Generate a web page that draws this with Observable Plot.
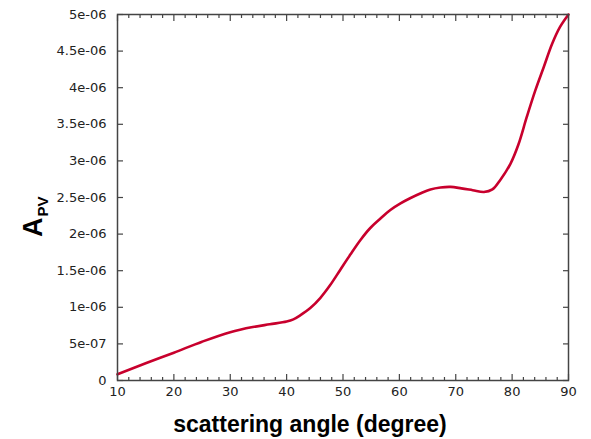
<!DOCTYPE html>
<html>
<head>
<meta charset="utf-8">
<script src="https://cdn.jsdelivr.net/npm/d3@7"></script>
<script src="https://cdn.jsdelivr.net/npm/@observablehq/plot@0.6"></script>
<style>
  html, body { margin: 0; padding: 0; background: #fff; }
  #chart { width: 591px; height: 439px; }
</style>
</head>
<body>
<div id="chart"></div>
<script>
// Data
const angle = [10, 15, 20, 25, 30, 34, 37, 40, 41.2, 42.4, 44.2, 46, 47.7, 49.5, 51.3, 53.1, 54.8, 56.6, 58.4, 60.2, 61.9, 63.7, 65.5, 67.3, 69.1, 71, 73, 75, 76.5, 77.9, 79.7, 81.1, 82.6, 84.1, 85.6, 87.1, 88.5, 90];
const apv = [0.086e-6, 0.236e-6, 0.38e-6, 0.53e-6, 0.66e-6, 0.73e-6, 0.768e-6, 0.805e-6, 0.835e-6, 0.89e-6, 0.99e-6, 1.13e-6, 1.30e-6, 1.51e-6, 1.72e-6, 1.92e-6, 2.08e-6, 2.21e-6, 2.33e-6, 2.42e-6, 2.49e-6, 2.555e-6, 2.61e-6, 2.637e-6, 2.645e-6, 2.625e-6, 2.60e-6, 2.575e-6, 2.61e-6, 2.74e-6, 2.96e-6, 3.22e-6, 3.60e-6, 3.96e-6, 4.28e-6, 4.60e-6, 4.83e-6, 5.0e-6];
const xMajor = [10, 20, 30, 40, 50, 60, 70, 80, 90];
const xMinor = [12, 14, 16, 18, 22, 24, 26, 28, 32, 34, 36, 38, 42, 44, 46, 48, 52, 54, 56, 58, 62, 64, 66, 68, 72, 74, 76, 78, 82, 84, 86, 88];
const xTickLabels = ["10", "20", "30", "40", "50", "60", "70", "80", "90"];
const yMajor = [0, 5e-7, 1e-6, 1.5e-6, 2e-6, 2.5e-6, 3e-6, 3.5e-6, 4e-6, 4.5e-6, 5e-6];
const yTickLabels = ["0", "5e-07", "1e-06", "1.5e-06", "2e-06", "2.5e-06", "3e-06", "3.5e-06", "4e-06", "4.5e-06", "5e-06"];
const xTitle = "scattering angle (degree)";

const data = angle.map((a, i) => ({angle: a, apv: apv[i]}));
const ink = "#444";
const blank = () => "";
const tickFont = {fontFamily: "DejaVu Sans", fontSize: 13, fill: "#222"};

const chart = Plot.plot({
  width: 591,
  height: 439,
  marginLeft: 117,
  marginRight: 23,
  marginTop: 14,
  marginBottom: 59,
  style: {fontFamily: "DejaVu Sans", color: "#222", background: "#fff"},
  x: {domain: [10, 90], axis: null},
  y: {domain: [0, 5e-6], axis: null},
  marks: [
    Plot.line(data, {x: "angle", y: "apv", stroke: "#c8002d", strokeWidth: 2.6, curve: "catmull-rom"}),
    Plot.frame({stroke: ink, strokeWidth: 1.5}),
    // inward tick marks on all four sides
    Plot.axisX({anchor: "bottom", ticks: xMajor, tickSize: -6, stroke: ink, strokeWidth: 1.2, tickFormat: blank, label: null}),
    Plot.axisX({anchor: "bottom", ticks: xMinor, tickSize: -3, stroke: ink, strokeWidth: 1.2, tickFormat: blank, label: null}),
    Plot.axisX({anchor: "top", ticks: xMajor, tickSize: -6, stroke: ink, strokeWidth: 1.2, tickFormat: blank, label: null}),
    Plot.axisX({anchor: "top", ticks: xMinor, tickSize: -3, stroke: ink, strokeWidth: 1.2, tickFormat: blank, label: null}),
    Plot.axisY({anchor: "left", ticks: yMajor, tickSize: -6, stroke: ink, strokeWidth: 1.2, tickFormat: blank, label: null}),
    Plot.axisY({anchor: "right", ticks: yMajor, tickSize: -6, stroke: ink, strokeWidth: 1.2, tickFormat: blank, label: null}),
    // tick labels
    Plot.text(xMajor, {x: d => d, text: (d, i) => xTickLabels[i], frameAnchor: "bottom", lineAnchor: "top", dy: 6, ...tickFont}),
    Plot.text(yMajor, {y: d => d, text: (d, i) => yTickLabels[i], frameAnchor: "left", textAnchor: "end", dx: -11, ...tickFont}),
    // x title
    Plot.text([xTitle], {text: d => d, frameAnchor: "bottom", lineAnchor: "middle", dy: 44, dx: -33, fontSize: 23, fontWeight: "bold", fontFamily: "Liberation Sans", fill: "#000"})
  ]
});

// y title with subscript
const svg = d3.select(chart);
const t = svg.append("text")
  .attr("transform", "translate(42,237) rotate(-90)")
  .attr("text-anchor", "start")
  .attr("font-family", "Liberation Sans")
  .attr("font-weight", "bold")
  .attr("fill", "#000");
t.append("tspan").attr("font-size", 27).text("A");
t.append("tspan").attr("font-size", 15).attr("dy", 6).attr("dx", 1).text("PV");

document.getElementById("chart").appendChild(chart);
</script>
</body>
</html>
